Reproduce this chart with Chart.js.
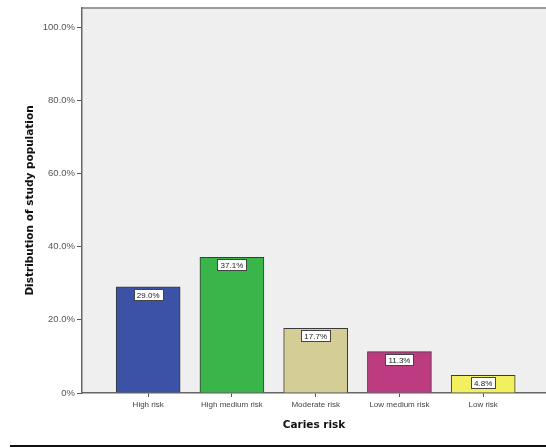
<!DOCTYPE html>
<html>
<head>
<meta charset="utf-8">
<script src="https://cdn.jsdelivr.net/npm/chart.js@4/dist/chart.umd.min.js"></script>
<style>
  html, body { margin: 0; padding: 0; background: #fff; overflow: hidden; }
  #caries_chart { display: block; }
</style>
</head>
<body>
<canvas id="caries_chart" width="546" height="448"></canvas>
<script>
// caries risk groups and share of the study population (%)
const riskGroups = ['High risk', 'High medium risk', 'Moderate risk', 'Low medium risk', 'Low risk'];
const riskShare = [29.0, 37.1, 17.7, 11.3, 4.8];
const barColors = ['#3b52a6', '#39b54a', '#d4cd96', '#bd3b80', '#f2f05e'];
const yTicks = [0, 20, 40, 60, 80, 100];

// grey plot frame behind the bars
const plotFrame = {
    id: 'plotFrame',
    beforeDraw(chart) {
        const ctx = chart.ctx;
        const a = chart.chartArea;
        ctx.save();
        ctx.fillStyle = '#efefef';
        ctx.fillRect(a.left, a.top, a.right - a.left, a.bottom - a.top);
        ctx.strokeStyle = '#9c9c9c';
        ctx.lineWidth = 2;
        ctx.beginPath();
        ctx.moveTo(a.left, a.top);
        ctx.lineTo(a.right, a.top);
        ctx.stroke();
        ctx.restore();
    },
    afterDraw(chart) {
        // black rule under the figure
        const ctx = chart.ctx;
        ctx.save();
        ctx.strokeStyle = '#111';
        ctx.lineWidth = 2;
        ctx.beginPath();
        ctx.moveTo(10, 446);
        ctx.lineTo(chart.width, 446);
        ctx.stroke();
        ctx.restore();
    }
};

// boxed percentage labels just inside the top of each bar
const valueBoxes = {
    id: 'valueBoxes',
    afterDatasetsDraw(chart) {
        const ctx = chart.ctx;
        const meta = chart.getDatasetMeta(0);
        ctx.save();
        ctx.font = '8px "Liberation Sans", Arial, sans-serif';
        ctx.textAlign = 'center';
        ctx.textBaseline = 'middle';
        meta.data.forEach((bar, i) => {
            const txt = riskShare[i].toFixed(1) + '%';
            const w = Math.round(ctx.measureText(txt).width) + 6;
            const h = 11;
            const x = Math.round(bar.x - w / 2) + 0.5;
            const y = Math.round(bar.y + 2) + 0.5;
            ctx.fillStyle = '#ffffff';
            ctx.fillRect(x, y, w, h);
            ctx.strokeStyle = '#444';
            ctx.lineWidth = 1;
            ctx.strokeRect(x, y, w, h);
            ctx.fillStyle = '#222';
            ctx.fillText(txt, bar.x, y + h / 2 + 0.5);
        });
        ctx.restore();
    }
};

var caries_chart = document.getElementById('caries_chart').getContext('2d');
var caries_chart = new Chart(caries_chart, {
    type: 'bar',
    data: {
        datasets: [{
            data: riskShare.map((v, i) => ({ x: i, y: v })),
            backgroundColor: barColors,
            borderColor: '#3a3a3a',
            borderWidth: 1,
            barThickness: 64
        }]
    },
    options: {
        responsive: false,
        animation: false,
        layout: { padding: { top: 8, right: 0, bottom: 0, left: 0 } },
        plugins: {
            legend: { display: false },
            tooltip: { enabled: false }
        },
        scales: {
            x: {
                type: 'linear',
                offset: false,
                min: -0.79,
                max: 4.75,
                afterBuildTicks: (scale) => {
                    scale.ticks = riskGroups.map((c, i) => ({ value: i }));
                },
                afterFit: (scale) => { scale.height = 55; },
                ticks: {
                    autoSkip: false,
                    maxRotation: 0,
                    padding: 3,
                    color: '#444',
                    font: { family: '"Liberation Sans", Arial, sans-serif', size: 8 },
                    callback: (v) => riskGroups[v]
                },
                grid: {
                    offset: false,
                    drawOnChartArea: false,
                    tickLength: 4,
                    tickColor: '#555',
                    tickWidth: 1
                },
                border: { color: '#666', width: 1.5 },
                title: {
                    display: true,
                    text: 'Caries risk',
                    color: '#111',
                    font: { family: '"DejaVu Sans", sans-serif', size: 10.5, weight: 'bold' },
                    padding: { top: 0, bottom: 16 }
                }
            },
            y: {
                min: 0,
                max: 105.2,
                afterBuildTicks: (scale) => {
                    scale.ticks = yTicks.map(v => ({ value: v }));
                },
                afterFit: (scale) => { scale.width = 82; },
                ticks: {
                    padding: 2,
                    color: '#555',
                    font: { family: '"Liberation Sans", Arial, sans-serif', size: 9.5 },
                    callback: (v) => v === 0 ? '0%' : v.toFixed(1) + '%'
                },
                grid: {
                    drawOnChartArea: false,
                    tickLength: 5,
                    tickColor: '#555',
                    tickWidth: 1
                },
                border: { color: '#666', width: 1.5 },
                title: {
                    display: true,
                    text: 'Distribution of study population',
                    color: '#111',
                    font: { family: '"DejaVu Sans", sans-serif', size: 10.5, weight: 'bold' },
                    padding: { top: 24, bottom: 0 }
                }
            }
        }
    },
    plugins: [plotFrame, valueBoxes]
});
</script>
</body>
</html>
